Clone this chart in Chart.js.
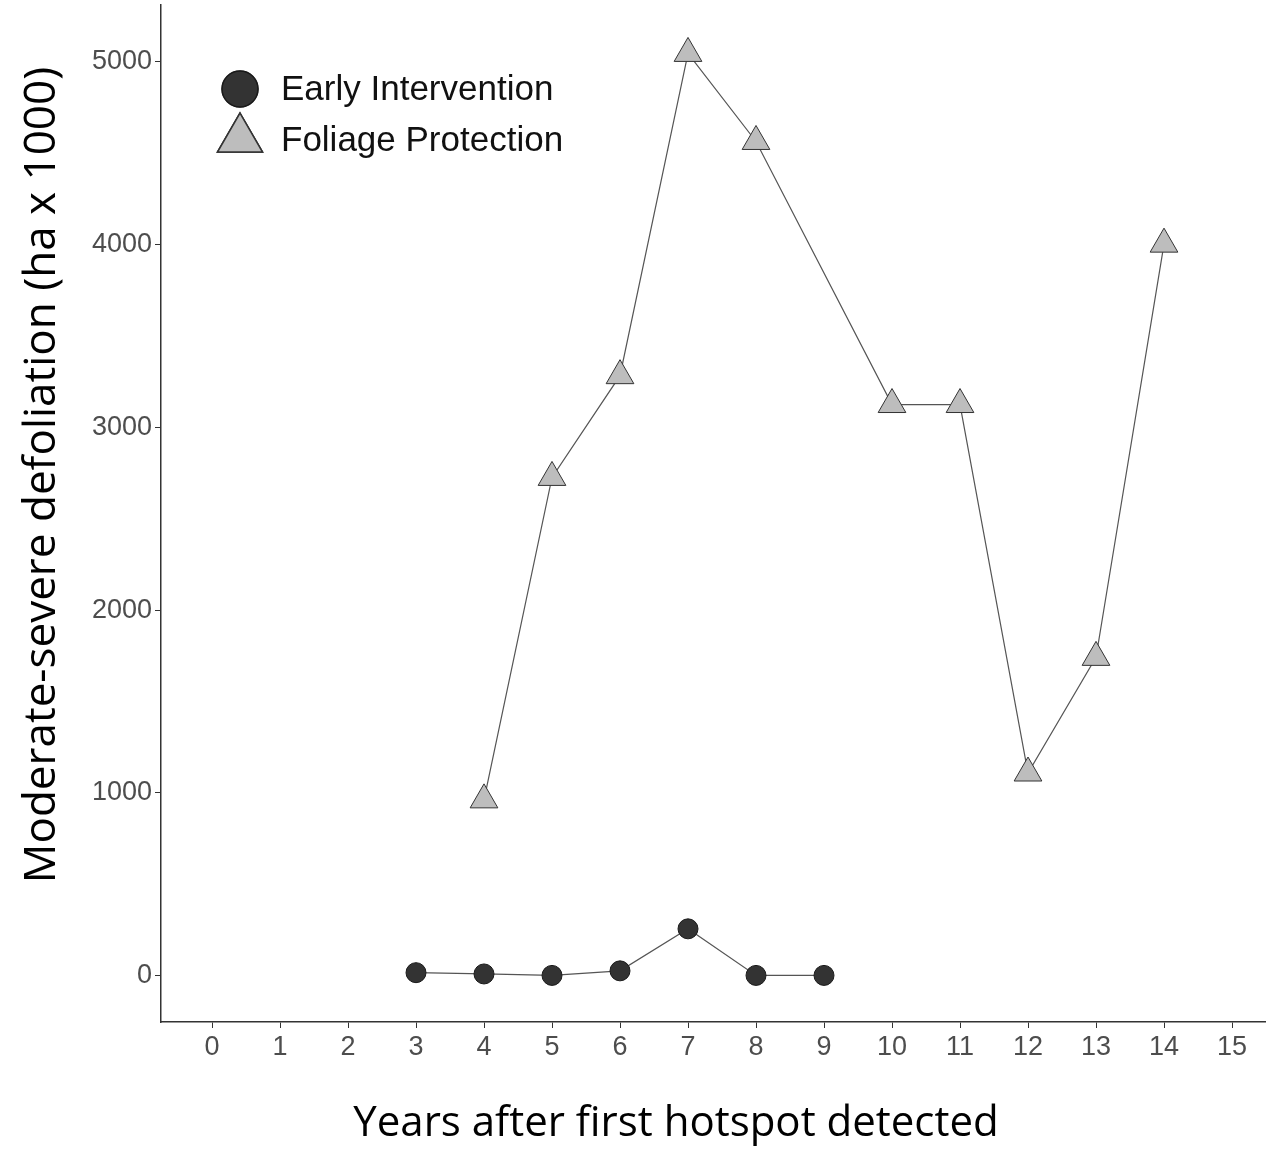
<!DOCTYPE html>
<html>
<head>
<meta charset="utf-8">
<script src="https://cdn.jsdelivr.net/npm/chart.js@4/dist/chart.umd.min.js"></script>
<style>
  html, body { margin: 0; padding: 0; background: #fff; }
  canvas { display: block; }
</style>
</head>
<body>
<canvas id="chart" width="1266" height="1150"></canvas>
<script>
// years after first hotspot detected
const earlyYears = [3, 4, 5, 6, 7, 8, 9];
const earlyValues = [15, 8, 0, 25, 255, 0, 0];

const foliageYears = [4, 5, 6, 7, 8, 10, 11, 12, 13, 14];
const foliageValues = [961, 2726, 3283, 5047, 4565, 3125, 3125, 1108, 1741, 4003];

const xTicks = [0, 1, 2, 3, 4, 5, 6, 7, 8, 9, 10, 11, 12, 13, 14, 15];
const yTicks = [0, 1000, 2000, 3000, 4000, 5000];

const seriesNames = ["Early Intervention", "Foliage Protection"];
const xTitle = "Years after first hotspot detected";
const yTitle = "Moderate-severe defoliation (ha x 1000)";

const toPoints = (xs, ys) => xs.map((x, i) => ({ x, y: ys[i] }));

const titleFamily = "'Open Sans', Lato, sans-serif";

// legend inside the plot (top-left) and the axis titles, which in the
// original are centred on the uncropped panel rather than the chart area
const decorations = {
  id: "decorations",
  afterDraw(chart) {
    const ctx = chart.ctx;
    const rows = [
      { ds: chart.data.datasets[0], cy: 89, r: 18 },
      { ds: chart.data.datasets[1], cy: 139, r: 26 }
    ];
    ctx.save();
    rows.forEach(row => {
      Chart.helpers.drawPoint(ctx, {
        pointStyle: row.ds.pointStyle,
        radius: row.r,
        rotation: 0,
        borderWidth: 1.5
      }, 240, row.cy);
      ctx.fillStyle = row.ds.pointBackgroundColor;
      ctx.strokeStyle = row.ds.pointBorderColor;
      ctx.lineWidth = 1.5;
      ctx.fill();
      ctx.stroke();
    });
    ctx.fillStyle = "#111";
    ctx.font = "35px 'Liberation Sans', Arial, sans-serif";
    ctx.textBaseline = "middle";
    ctx.fillText(seriesNames[0], 281, 90);
    ctx.fillText(seriesNames[1], 281, 141);

    ctx.fillStyle = "#000";
    ctx.textAlign = "center";
    ctx.font = "42px " + titleFamily;
    ctx.fillText(xTitle, 676, 1124);

    ctx.translate(42, 475);
    ctx.rotate(-Math.PI / 2);
    ctx.font = "44px " + titleFamily;
    ctx.fillText(yTitle, 0, 0);
    ctx.restore();
  }
};

const tickFont = { family: "'Liberation Sans', Arial, sans-serif", size: 27 };

new Chart(document.getElementById("chart").getContext("2d"), {
  type: "scatter",
  data: {
    datasets: [
      {
        label: seriesNames[0],
        data: toPoints(earlyYears, earlyValues),
        showLine: true,
        borderColor: "#555",
        borderWidth: 1.2,
        pointStyle: "circle",
        pointRadius: 10,
        pointBackgroundColor: "#333",
        pointBorderColor: "#1a1a1a",
        pointBorderWidth: 1
      },
      {
        label: seriesNames[1],
        data: toPoints(foliageYears, foliageValues),
        showLine: true,
        borderColor: "#555",
        borderWidth: 1.2,
        pointStyle: "triangle",
        pointRadius: 16,
        pointBackgroundColor: "#bdbdbd",
        pointBorderColor: "#333",
        pointBorderWidth: 1
      }
    ]
  },
  options: {
    responsive: false,
    animation: false,
    layout: { autoPadding: false, padding: { top: 5, right: 0, bottom: 0, left: 0 } },
    plugins: {
      legend: { display: false },
      tooltip: { enabled: false }
    },
    scales: {
      x: {
        type: "linear",
        min: -0.75,
        max: 15.5,
        afterBuildTicks: s => { s.ticks = xTicks.map(v => ({ value: v })); },
        afterFit: s => { s.height = 128; s.paddingLeft = 0; s.paddingRight = 0; },
        grid: { drawOnChartArea: false, drawTicks: true, tickLength: 6, color: "#333" },
        border: { display: true, color: "#333", width: 1.5 },
        ticks: {
          color: "#4d4d4d",
          padding: 3,
          maxRotation: 0,
          autoSkip: false,
          font: tickFont,
          callback: v => String(v)
        },
        title: { display: false }
      },
      y: {
        min: -255,
        max: 5312,
        afterBuildTicks: s => { s.ticks = yTicks.map(v => ({ value: v })); },
        afterFit: s => { s.width = 161; s.paddingTop = 0; s.paddingBottom = 0; },
        grid: { drawOnChartArea: false, drawTicks: true, tickLength: 6, color: "#333" },
        border: { display: true, color: "#333", width: 1.5 },
        ticks: {
          color: "#4d4d4d",
          padding: 3,
          font: tickFont,
          callback: v => String(v)
        },
        title: { display: false }
      }
    }
  },
  plugins: [decorations]
});
</script>
</body>
</html>
